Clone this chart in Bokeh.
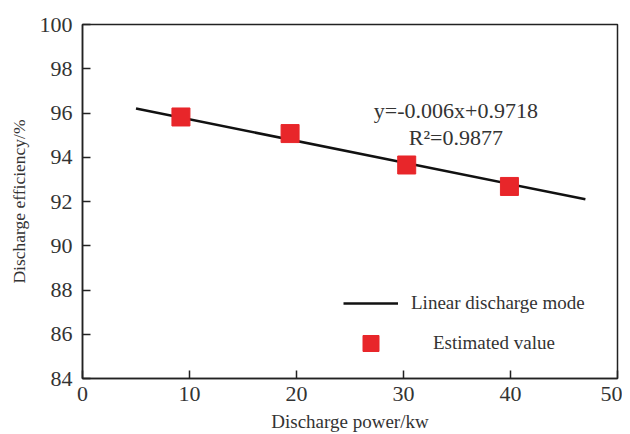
from bokeh.plotting import figure
from bokeh.models import Legend, LegendItem, Label, FixedTicker, Range1d
from bokeh.embed import file_html
from bokeh.resources import INLINE

# data
power = [9.2, 19.4, 30.3, 39.9]
efficiency = [95.82, 95.07, 93.65, 92.68]
fit_x = [5.0, 47.0]
fit_y = [96.2, 92.1]
x_ticks = [0, 10, 20, 30, 40, 50]
y_ticks = [84, 86, 88, 90, 92, 94, 96, 98, 100]

FONT = "Liberation Serif"
TXT = "#333333"

p = figure(width=620, height=426, output_backend="svg", toolbar_location=None,
           x_range=Range1d(0, 50), y_range=Range1d(84, 100),
           min_border_left=82, min_border_top=24, min_border_right=5, min_border_bottom=48)
p.frame_width = 535
p.frame_height = 354
p.grid.visible = False
p.outline_line_color = "#222222"
p.outline_line_width = 1.5
p.background_fill_color = "white"
p.border_fill_color = "white"

for ax in (p.xaxis[0], p.yaxis[0]):
    ax.axis_line_color = "#222222"
    ax.axis_line_width = 1.5
    ax.major_tick_in = 8
    ax.major_tick_out = 0
    ax.major_tick_line_width = 1.5
    ax.major_tick_line_color = "#222222"
    ax.minor_tick_line_color = None
    ax.major_label_text_font = FONT
    ax.major_label_text_font_size = "22px"
    ax.major_label_text_color = TXT
    ax.axis_label_text_font = FONT
    ax.axis_label_text_font_style = "normal"
    ax.axis_label_text_color = TXT

p.xaxis.ticker = FixedTicker(ticks=x_ticks)
p.yaxis.ticker = FixedTicker(ticks=y_ticks)
p.xaxis.axis_label = "Discharge power/kw"
p.yaxis.axis_label = "Discharge efficiency/%"
p.xaxis.axis_label_text_font_size = "19px"
p.yaxis.axis_label_text_font_size = "17.5px"
p.xaxis.major_label_standoff = 8
p.yaxis.major_label_standoff = 10
p.xaxis.axis_label_standoff = 7
p.yaxis.axis_label_standoff = 8

line_r = p.line(fit_x, fit_y, line_color="#111111", line_width=2.5)
sq_r = p.scatter(power, efficiency, marker="square", size=18,
                 fill_color="#e8262a", line_color="#e8262a")

eq = Label(x=34.9, y=96.1, text="y=-0.006x+0.9718", text_align="center",
           text_baseline="middle", text_font=FONT, text_font_size="22px", text_color=TXT)
r2 = Label(x=34.9, y=94.9, text="R²=0.9877", text_align="center",
           text_baseline="middle", text_font=FONT, text_font_size="22px", text_color=TXT)
p.add_layout(eq)
p.add_layout(r2)

leg1 = Legend(items=[LegendItem(label="Linear discharge mode", renderers=[line_r])],
              location=(261, 64), glyph_width=55, glyph_height=20, label_standoff=13,
              padding=0, margin=0, border_line_color=None, background_fill_alpha=0,
              label_text_font=FONT, label_text_font_size="19px", label_text_color=TXT)
leg2 = Legend(items=[LegendItem(label="Estimated value", renderers=[sq_r])],
              location=(261, 15), glyph_width=55, glyph_height=40, label_standoff=35,
              padding=0, margin=0, border_line_color=None, background_fill_alpha=0,
              label_text_font=FONT, label_text_font_size="19px", label_text_color=TXT)
p.add_layout(leg1, "center")
p.add_layout(leg2, "center")

open("out.html", "w").write(file_html(p, INLINE))
